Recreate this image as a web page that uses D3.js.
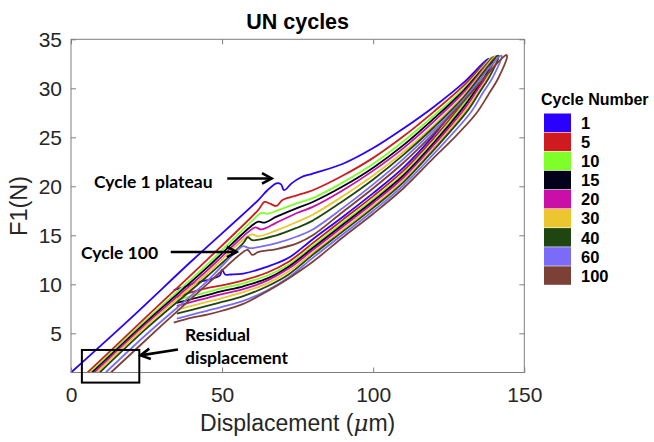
<!DOCTYPE html>
<html><head><meta charset="utf-8">
<script src="https://cdn.jsdelivr.net/npm/d3@7"></script>
<style>body{margin:0;background:#fff}svg{display:block}</style>
</head><body>
<svg id="chart" width="654" height="442"></svg>
<script>
// ---- data ----
const cycleLabels = ["1","5","10","15","20","30","40","60","100"];
const cycleColors = ["#2a00ff","#cf1b1f","#7fff2a","#02001a","#c90fa8","#ecc62f","#1f4610","#7a6cf8","#7b4136"];
const xTicks = [0,50,100,150];
const yTicks = [5,10,15,20,25,30,35];

const cycle1 = [[0,1],[20,6.6],[40,12.4],[62,18.6],[65,19.6],[68,20.3],[69.5,20.2],[70.5,19.6],[73,20.3],[76,20.9],[80,21.3],[90,22.3],[100,23.9],[110,25.9],[120,28.1],[130,30.6],[137.5,32.9],
  [138.3,33.0],[135.5,31.3],[132,29.8],[128,28.3],[120,25.2],[110,21.9],[100,19.3],[90,16.9],[80,14.6],[72,12.7],[65,11.8],[57,11.1],[53,11.0],[51,11.0],[50,11.5],[49.3,10.9],[46,10.5],[42,10.2],[37,9.7],[34,9.4]];
const cycle5 = [[5.5,1],[25,6.7],[45,12.5],[62,17.6],[64,18.4],[66,18.2],[68,18.0],[70,18.6],[75,19.1],[80,19.6],[90,21.1],[100,22.9],[110,25.1],[120,27.6],[130,30.3],[138.5,33.0],
  [139.2,33.1],[136.4,31.3],[132.9,29.8],[128.9,28.2],[120,24.9],[110,21.6],[100,19.0],[90,16.6],[80,14.2],[72,12.3],[65,11.2],[57,10.4],[50,9.9],[45,9.6],[40,9.2],[35,8.7]];
const cycle10 = [[6.3,1],[25,6.4],[45,12.0],[61,16.8],[63,17.3],[65,17.2],[68,17.5],[75,18.3],[80,18.8],[90,20.4],[100,22.3],[110,24.6],[120,27.2],[130,30.0],[139,33.1],
  [139.6,33.2],[136.8,31.3],[133.3,29.8],[129.3,28.1],[120,24.6],[110,21.3],[100,18.7],[90,16.3],[80,13.9],[72,12.0],[65,10.9],[57,10.1],[50,9.6],[45,9.2],[40,8.8],[35,8.4]];
const cycle15 = [[7,1],[25,6.2],[45,11.7],[59.5,15.9],[62,16.4],[64,16.3],[68,16.9],[75,17.8],[80,18.4],[90,20.0],[100,21.9],[110,24.2],[120,26.9],[130,29.8],[139.5,33.1],
  [140,33.2],[137.2,31.3],[133.7,29.7],[129.7,28.0],[120,24.4],[110,21.1],[100,18.5],[90,16.1],[80,13.7],[72,11.8],[65,10.6],[57,9.8],[50,9.3],[45,8.9],[40,8.5],[35,8.1]];
const cycle20 = [[7.7,1],[25,6.0],[45,11.4],[58.5,15.3],[61,15.8],[63,15.6],[68,16.3],[75,17.3],[80,17.9],[90,19.6],[100,21.6],[110,23.9],[120,26.6],[130,29.6],[140,33.2],
  [140.5,33.2],[137.7,31.3],[134.2,29.7],[130.2,27.9],[120,24.2],[110,20.9],[100,18.3],[90,15.9],[80,13.5],[72,11.6],[65,10.4],[57,9.5],[50,9.0],[45,8.6],[40,8.2],[35,7.8]];
const cycle30 = [[8.5,1],[25,5.8],[45,11.1],[58,14.8],[60,15.1],[62,14.9],[68,15.5],[75,16.4],[80,17.1],[90,19.0],[100,21.1],[110,23.5],[120,26.2],[130,29.3],[140.5,33.3],
  [141,33.3],[138.2,31.3],[134.7,29.6],[130.7,27.8],[120,23.9],[110,20.6],[100,18.0],[90,15.6],[80,13.2],[72,11.3],[65,10.1],[57,9.2],[50,8.6],[45,8.2],[40,7.8],[35,7.4]];
const cycle40 = [[9.5,1],[25,5.5],[45,10.8],[57,14.2],[58.5,14.8],[60,14.5],[68,15.0],[75,15.8],[80,16.5],[90,18.5],[100,20.7],[110,23.2],[120,26.0],[130,29.1],[141,33.3],
  [141.5,33.3],[138.7,31.3],[135.2,29.6],[131.2,27.7],[120,23.7],[110,20.4],[100,17.8],[90,15.4],[80,13.0],[72,11.0],[65,9.8],[57,8.8],[50,8.2],[45,7.8],[40,7.4],[35,7.0]];
const cycle60 = [[11.5,1],[25,4.9],[45,10.3],[55.5,13.6],[57,13.9],[59,13.7],[68,14.2],[75,14.9],[80,15.6],[90,17.8],[100,20.2],[110,22.8],[120,25.7],[130,28.9],[142,33.3],
  [142.5,33.3],[139.7,31.2],[136.2,29.5],[132.2,27.5],[120,23.3],[110,20.1],[100,17.5],[90,15.1],[80,12.7],[72,10.7],[65,9.4],[57,8.3],[50,7.7],[45,7.3],[40,6.9],[35,6.5]];
const cycle100 = [[13.2,1],[30,5.8],[45,10.0],[57,13.3],[58.5,13.5],[60,13.0],[62,13.3],[68,13.6],[75,14.2],[80,15.0],[90,17.4],[100,19.8],[110,22.4],[120,25.4],[130,28.7],[144,33.4],
  [144.3,33.3],[141.5,31.1],[138,29.3],[134,27.4],[126,24.7],[120,22.9],[110,19.8],[100,17.2],[90,14.8],[80,12.3],[72,10.6],[65,9.3],[57,8.0],[50,7.3],[45,6.9],[40,6.6],[34,6.1]];
const cycleData = [cycle1,cycle5,cycle10,cycle15,cycle20,cycle30,cycle40,cycle60,cycle100];

// ---- layout ----
const svg = d3.select("#chart");
const L = 71, R = 524.3, T = 39.3, B = 372.5;
const x = d3.scaleLinear().domain([0,150]).range([L,R]);
const y = d3.scaleLinear().domain([1,35]).range([B,T]);
const axisColor = "#262626";
const fontAx = "'Liberation Sans', Arial, sans-serif";

// lines
const line = d3.line().x(d=>x(d[0])).y(d=>y(d[1])).curve(d3.curveCatmullRom.alpha(0.5));
svg.append("g").selectAll("path").data(cycleData).join("path")
  .attr("d", line).attr("fill","none")
  .attr("stroke",(d,i)=>cycleColors[i]).attr("stroke-width",1.8).attr("stroke-linejoin","round");

// frame
svg.append("rect").attr("x",L).attr("y",T).attr("width",R-L).attr("height",B-T)
  .attr("fill","none").attr("stroke","#7f7f7f").attr("stroke-width",1);

// axes (ticks inside)
const gx = svg.append("g").attr("transform",`translate(0,${B})`)
  .call(d3.axisBottom(x).tickValues(xTicks).tickSizeInner(-5).tickSizeOuter(0).tickPadding(15));
const gxt = svg.append("g").attr("transform",`translate(0,${T})`)
  .call(d3.axisTop(x).tickValues(xTicks).tickSizeInner(-5).tickSizeOuter(0).tickFormat(""));
const gy = svg.append("g").attr("transform",`translate(${L},0)`)
  .call(d3.axisLeft(y).tickValues(yTicks).tickSizeInner(-5).tickSizeOuter(0).tickPadding(9));
const gyr = svg.append("g").attr("transform",`translate(${R},0)`)
  .call(d3.axisRight(y).tickValues(yTicks).tickSizeInner(-5).tickSizeOuter(0).tickFormat(""));
[gx,gxt,gy,gyr].forEach(g=>{
  g.select(".domain").remove();
  g.selectAll(".tick line").attr("stroke","#7f7f7f");
  g.selectAll("text").attr("fill",axisColor).attr("font-family",fontAx).attr("font-size",21);
});
gy.selectAll("text").attr("dy","0.36em");

// title and axis labels
svg.append("text").attr("x",(L+R)/2).attr("y",29).attr("text-anchor","middle")
  .attr("font-family",fontAx).attr("font-weight","bold").attr("font-size",21.5).attr("fill","#000").text("UN cycles");
const xl = svg.append("text").attr("x",(L+R)/2).attr("y",431).attr("text-anchor","middle")
  .attr("font-family",fontAx).attr("font-size",23).attr("fill",axisColor);
xl.append("tspan").text("Displacement (");
xl.append("tspan").attr("font-style","italic").attr("font-family","'DejaVu Serif', serif").text("μ");
xl.append("tspan").text("m)");
svg.append("text").attr("transform",`translate(27,${(T+B)/2}) rotate(-90)`).attr("text-anchor","middle")
  .attr("font-family",fontAx).attr("font-size",23.5).attr("fill",axisColor).text("F1(N)");

// legend
const lg = svg.append("g");
lg.append("text").attr("x",541).attr("y",105).attr("font-family",fontAx).attr("font-weight","bold")
  .attr("font-size",16).attr("fill","#000").text("Cycle Number");
const sw = 19.1;
cycleLabels.forEach((c,i)=>{
  lg.append("rect").attr("x",544).attr("y",113.5+i*sw).attr("width",27).attr("height",sw-0.6)
    .attr("fill",cycleColors[i]);
  lg.append("text").attr("x",581).attr("y",113.5+i*sw+sw/2).attr("dy","0.36em")
    .attr("font-family",fontAx).attr("font-weight","bold").attr("font-size",16.5).attr("fill","#000").text(c);
});

// annotations
const fontAnn = "Lato, 'Open Sans', sans-serif";
function arrow(x1,y1,x2,y2){
  const a = Math.atan2(y2-y1,x2-x1), h=11, w=0.5;
  svg.append("path").attr("d",`M${x1},${y1}L${x2},${y2}`).attr("stroke","#000").attr("stroke-width",2.6).attr("fill","none");
  svg.append("path").attr("d",`M${x2-h*Math.cos(a-w)},${y2-h*Math.sin(a-w)}L${x2},${y2}L${x2-h*Math.cos(a+w)},${y2-h*Math.sin(a+w)}`)
    .attr("stroke","#000").attr("stroke-width",2.6).attr("fill","none").attr("stroke-linejoin","miter");
}
function ann(tx,ty,txt){
  svg.append("text").attr("x",tx).attr("y",ty).attr("font-family",fontAnn).attr("font-weight","bold")
    .attr("font-size",17.5).attr("fill","#000").text(txt);
}
ann(94,188,"Cycle 1 plateau");
arrow(x(51.7),y(20.8),x(66.4),y(20.8));
ann(81,259,"Cycle 100");
arrow(x(33),y(13.3),x(54.8),y(13.3));
ann(185,341,"Residual");
ann(185,364,"displacement");
arrow(x(35.4),y(3.35),x(23),y(2.75));
svg.append("rect").attr("x",x(3.6)).attr("y",y(3.3)).attr("width",x(22.6)-x(3.6)).attr("height",y(-0.03)-y(3.3))
  .attr("fill","none").attr("stroke","#000").attr("stroke-width",2);
</script>
</body></html>
